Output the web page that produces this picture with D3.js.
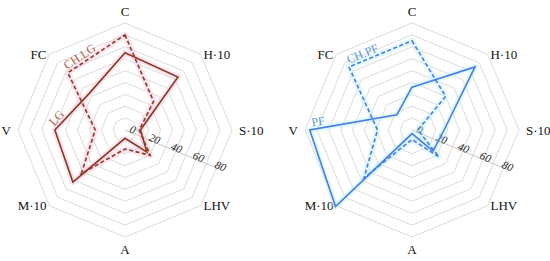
<!DOCTYPE html>
<html>
<head>
<meta charset="utf-8">
<script src="https://cdn.jsdelivr.net/npm/d3@7"></script>
<style>
    body { margin: 0; background: #fff; }
    svg { display: block; }
    text { font-family: "Liberation Serif", "DejaVu Serif", serif; }
</style>
</head>
<body>
<svg id="chart" width="550" height="261"></svg>
<script>
// axes, clockwise from the top
var categories = ['C', 'H\u00b710', 'S\u00b710', 'LHV', 'A', 'M\u00b710', 'V', 'FC'];

// lignite panel
var lgValues   = [65, 63, 13, 26, 7, 62, 59, 43];
var chlgValues = [80, 34, 12, 30, 16, 52, 25, 68];

// paper fibre panel
var pfValues   = [36, 75, 27, 25, 3, 91, 86, 18];
var chpfValues = [75, 40, 5, 32, 8, 57, 29, 75];

var ringValues = [10, 20, 30, 40, 50, 60, 70, 80, 90];
var tickValues = [0, 20, 40, 60, 80];

(function(window) {
    'use strict';

    var svg = d3.select('#chart');
    var R = 107;

    var rScale = d3.scaleLinear().domain([0, 90]).range([0, R]);
    var aScale = d3.scaleLinear().domain([0, categories.length])
        .range([-Math.PI / 2, 3 * Math.PI / 2]);

    function point(i, v) {
        var a = aScale(i);
        return [rScale(v) * Math.cos(a), rScale(v) * Math.sin(a)];
    }

    var radarLine = d3.line()
        .x(function(d, i) { return point(i, d)[0]; })
        .y(function(d, i) { return point(i, d)[1]; })
        .curve(d3.curveLinearClosed);

    /******************************************************************
        one radar panel
     ******************************************************************/
    function panel(cx, cy, opt) {
        var g = svg.append('g').attr('transform', 'translate(' + cx + ',' + cy + ')');

        // grid rings
        g.selectAll('path.ring')
            .data(ringValues)
            .enter().append('path')
                .attr('class', 'ring')
                .attr('d', function(v) { return radarLine(categories.map(function() { return v; })); })
                .style('fill', 'none')
                .style('stroke', '#dcdcdc')
                .style('stroke-width', 1);

        // value axis, between S and LHV
        var ta = Math.PI / 8;
        var deg = ta * 180 / Math.PI;
        g.append('line')
            .attr('x1', 0).attr('y1', 0)
            .attr('x2', (R - 2) * Math.cos(ta))
            .attr('y2', (R - 2) * Math.sin(ta))
            .style('stroke', '#c8c8c8')
            .style('stroke-width', 1);

        g.selectAll('text.tick')
            .data(tickValues)
            .enter().append('text')
                .attr('class', 'tick')
                .attr('transform', function(v) {
                    var r = rScale(v) + 7;
                    var x = r * Math.cos(ta) + 3 * Math.sin(ta);
                    var y = r * Math.sin(ta) - 3 * Math.cos(ta);
                    return 'translate(' + x + ',' + y + ') rotate(' + deg + ')';
                })
                .attr('text-anchor', 'middle')
                .attr('dy', '0.32em')
                .style('font-size', '11px')
                .style('font-style', 'italic')
                .style('fill', '#222')
                .text(function(v) { return v; });

        // category labels
        g.selectAll('text.cat')
            .data(categories)
            .enter().append('text')
                .attr('class', 'cat')
                .attr('x', function(d, i) {
                    var c = Math.cos(aScale(i));
                    var r = Math.abs(c) > 0.9 ? R + 7 : R + 4;
                    return r * c;
                })
                .attr('y', function(d, i) {
                    var s = Math.sin(aScale(i));
                    var r = Math.abs(s) > 0.9 ? R + 12 : R;
                    return r * s;
                })
                .attr('text-anchor', function(d, i) {
                    var c = Math.cos(aScale(i));
                    return c > 0.1 ? 'start' : (c < -0.1 ? 'end' : 'middle');
                })
                .attr('dy', '0.35em')
                .style('font-size', '13px')
                .style('fill', '#111')
                .text(function(d) { return d; });

        // series, with a soft halo under each line
        opt.series.forEach(function(s) {
            g.append('path')
                .attr('d', radarLine(s.values))
                .style('fill', 'none')
                .style('stroke', opt.halo)
                .style('stroke-width', 6)
                .style('stroke-linejoin', 'round')
                .style('opacity', 0.45);
        });
        opt.series.forEach(function(s) {
            g.append('path')
                .attr('d', radarLine(s.values))
                .style('fill', 'none')
                .style('stroke', opt.color)
                .style('stroke-width', 1.6)
                .style('stroke-dasharray', s.dash ? '4,2.5' : null);
        });

        // series names, laid along their own edges
        opt.series.forEach(function(s) {
            var p0 = point(s.from, s.values[s.from]);
            var p1 = point(s.to, s.values[s.to]);
            var ang = Math.atan2(p1[1] - p0[1], p1[0] - p0[0]);
            var x = p0[0] + s.shift * Math.cos(ang) + 3 * Math.sin(ang);
            var y = p0[1] + s.shift * Math.sin(ang) - 3 * Math.cos(ang);
            g.append('text')
                .attr('transform', 'translate(' + x + ',' + y + ') rotate(' + ang * 180 / Math.PI + ')')
                .style('font-size', '12px')
                .style('fill', opt.label)
                .text(s.name);
        });
    }

    panel(125, 130, {
        color: '#8a3a22', label: '#b25a45', halo: '#f7c6dc',
        series: [
            { name: 'LG', values: lgValues, dash: false, from: 6, to: 7, shift: 2 },
            { name: 'CH.LG', values: chlgValues, dash: true, from: 7, to: 0, shift: 1 }
        ]
    });

    panel(412, 130, {
        color: '#4a7be0', label: '#5a9be0', halo: '#bff2fb',
        series: [
            { name: 'PF', values: pfValues, dash: false, from: 6, to: 7, shift: 3 },
            { name: 'CH.PF', values: chpfValues, dash: true, from: 7, to: 0, shift: 1 }
        ]
    });

    window.rScale = rScale;
})(window);
</script>
</body>
</html>
